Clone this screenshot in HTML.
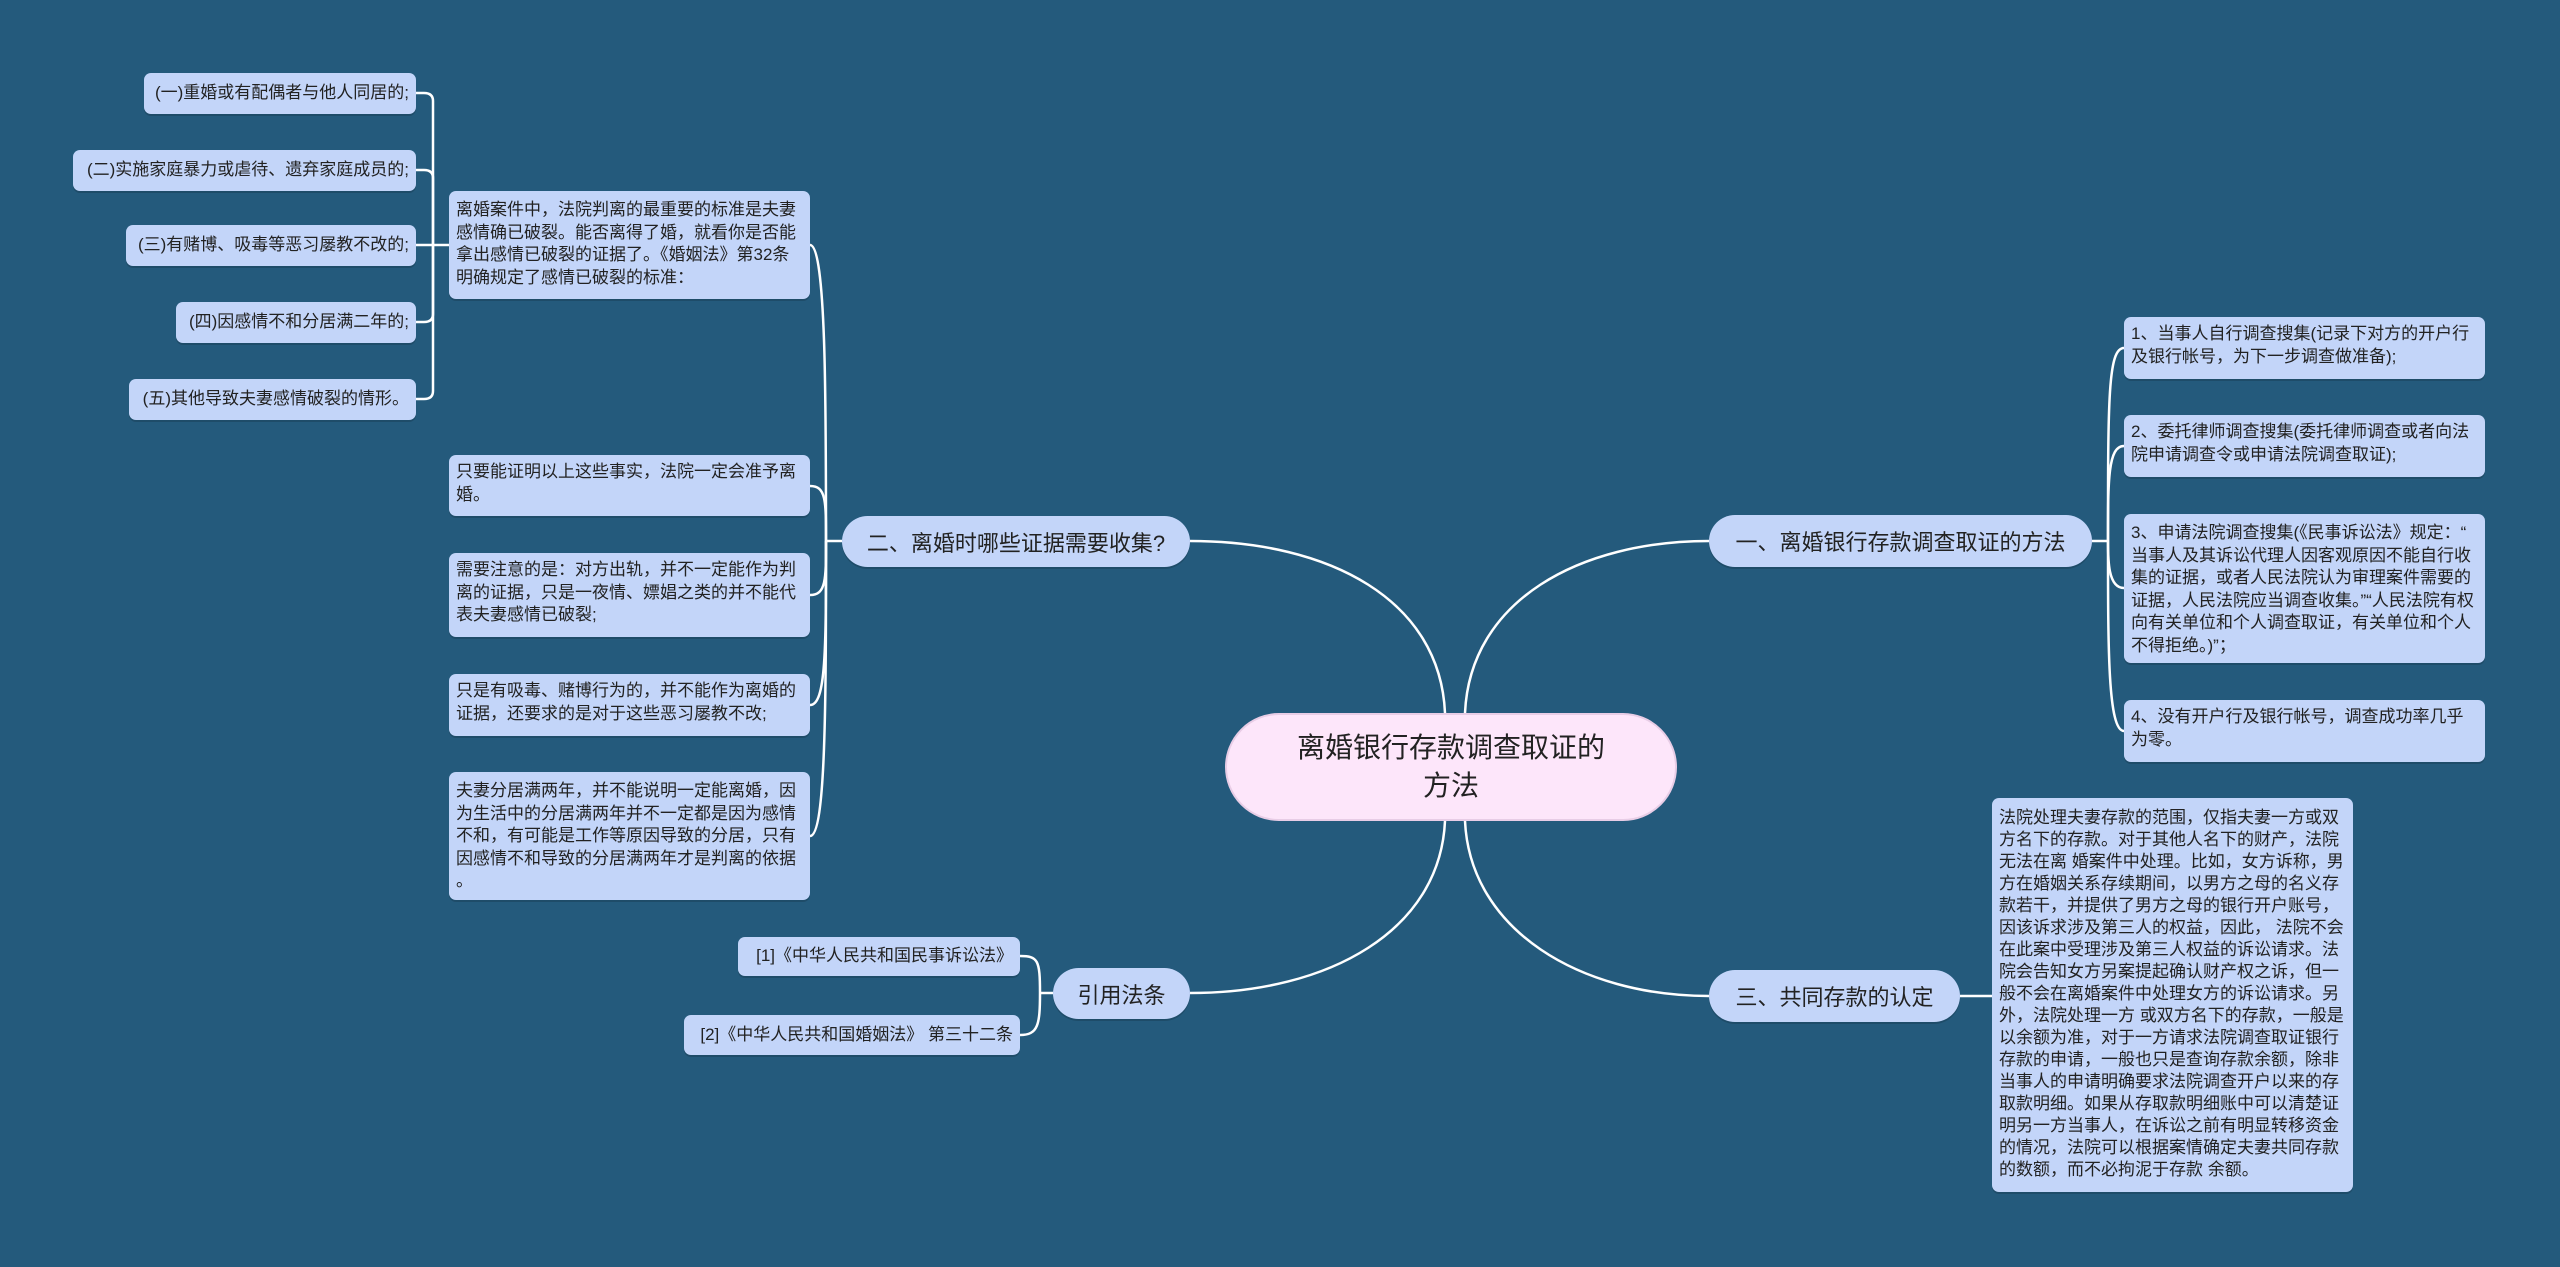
<!DOCTYPE html>
<html><head><meta charset="utf-8"><style>
html,body{margin:0;padding:0}
body{width:2560px;height:1267px;background:#245a7c;position:relative;overflow:hidden;font-family:"Liberation Sans","Noto Sans CJK SC",sans-serif;color:#222}
.n{position:absolute;background:#c3d5f9;border-radius:7px;box-sizing:border-box;font-size:17px;line-height:22.5px;padding:6px 7px;box-shadow:0 2px 0 rgba(0,0,0,0.15);line-break:anywhere}
.r{text-align:right;white-space:nowrap;display:flex;align-items:center;justify-content:flex-end}
.b{position:absolute;background:#c3d5f9;border-radius:26px;box-sizing:border-box;font-size:22px;display:flex;align-items:center;justify-content:center;white-space:nowrap;box-shadow:0 2px 0 rgba(0,0,0,0.15)}
.c{position:absolute;background:#fde6fa;border-radius:54px;box-sizing:border-box;font-size:28px;line-height:38px;display:flex;align-items:center;justify-content:center;text-align:center;border:2px solid #e8cde6}
svg{position:absolute;left:0;top:0}
</style></head><body>
<svg width="2560" height="1267" fill="none" stroke="#ffffff" stroke-width="2.5">
<path d="M1445,713 C1440,600 1330,541 1190,541"/>
<path d="M1465,713 C1470,600 1580,541 1709,541"/>
<path d="M1445,821 C1440,930 1330,993 1190,993"/>
<path d="M1465,821 C1470,930 1580,996 1709,996"/>
<path d="M842,541 H826"/>
<path d="M826,541 C826,400 826,245 810,245"/>
<path d="M826,541 C826,500 826,486 810,486"/>
<path d="M826,541 C826,580 826,595 810,595"/>
<path d="M826,541 C826,650 826,705 810,705"/>
<path d="M826,541 C826,700 826,836 810,836"/>
<path d="M449,245 H433"/>
<path d="M433,245 V101 Q433,93 424,93 H416"/>
<path d="M433,245 V178 Q433,170 424,170 H416"/>
<path d="M433,245 H416"/>
<path d="M433,245 V314 Q433,322 424,322 H416"/>
<path d="M433,245 V391 Q433,399 424,399 H416"/>
<path d="M1053,993 H1040"/>
<path d="M1040,993 C1040,960 1038,956 1020,956"/>
<path d="M1040,993 C1040,1025 1038,1035 1020,1035"/>
<path d="M2092,541 H2108"/>
<path d="M2108,541 C2108,400 2108,348 2124,348"/>
<path d="M2108,541 C2108,480 2108,446 2124,446"/>
<path d="M2108,541 C2108,560 2108,588 2124,588"/>
<path d="M2108,541 C2108,650 2108,731 2124,731"/>
<path d="M1960,996 H1992"/>
</svg>

<div class="c" style="left:1225px;top:713px;width:452px;height:108px">离婚银行存款调查取证的<br>方法</div>

<div class="b" style="left:842px;top:516px;width:348px;height:51px">二、离婚时哪些证据需要收集?</div>
<div class="b" style="left:1053px;top:968px;width:137px;height:51px">引用法条</div>
<div class="b" style="left:1709px;top:515px;width:383px;height:52px">一、离婚银行存款调查取证的方法</div>
<div class="b" style="left:1709px;top:970px;width:251px;height:52px">三、共同存款的认定</div>

<div class="n r" style="left:144px;top:73px;width:272px;height:41px">(一)重婚或有配偶者与他人同居的;</div>
<div class="n r" style="left:73px;top:150px;width:343px;height:41px">(二)实施家庭暴力或虐待、遗弃家庭成员的;</div>
<div class="n r" style="left:126px;top:225px;width:290px;height:41px">(三)有赌博、吸毒等恶习屡教不改的;</div>
<div class="n r" style="left:176px;top:302px;width:240px;height:41px">(四)因感情不和分居满二年的;</div>
<div class="n r" style="left:129px;top:379px;width:287px;height:41px">(五)其他导致夫妻感情破裂的情形。</div>

<div class="n" style="left:449px;top:191px;width:361px;height:108px;padding-top:8px">离婚案件中，法院判离的最重要的标准是夫妻感情确已破裂。能否离得了婚，就看你是否能拿出感情已破裂的证据了。《婚姻法》第32条明确规定了感情已破裂的标准：</div>
<div class="n" style="left:449px;top:455px;width:361px;height:61px">只要能证明以上这些事实，法院一定会准予离婚。</div>
<div class="n" style="left:449px;top:553px;width:361px;height:84px">需要注意的是：对方出轨，并不一定能作为判离的证据，只是一夜情、嫖娼之类的并不能代表夫妻感情已破裂;</div>
<div class="n" style="left:449px;top:674px;width:361px;height:62px">只是有吸毒、赌博行为的，并不能作为离婚的证据，还要求的是对于这些恶习屡教不改;</div>
<div class="n" style="left:449px;top:772px;width:361px;height:128px;padding-top:8px">夫妻分居满两年，并不能说明一定能离婚，因为生活中的分居满两年并不一定都是因为感情不和，有可能是工作等原因导致的分居，只有因感情不和导致的分居满两年才是判离的依据。</div>

<div class="n r" style="left:738px;top:937px;width:282px;height:39px">[1]《中华人民共和国民事诉讼法》</div>
<div class="n r" style="left:684px;top:1015px;width:336px;height:40px">[2]《中华人民共和国婚姻法》 第三十二条</div>

<div class="n" style="left:2124px;top:317px;width:361px;height:62px">1、当事人自行调查搜集(记录下对方的开户行及银行帐号，为下一步调查做准备);</div>
<div class="n" style="left:2124px;top:415px;width:361px;height:62px">2、委托律师调查搜集(委托律师调查或者向法院申请调查令或申请法院调查取证);</div>
<div class="n" style="left:2124px;top:514px;width:361px;height:149px;padding-top:8px">3、申请法院调查搜集(《民事诉讼法》规定：“当事人及其诉讼代理人因客观原因不能自行收集的证据，或者人民法院认为审理案件需要的证据，人民法院应当调查收集。”“人民法院有权向有关单位和个人调查取证，有关单位和个人不得拒绝。)”；</div>
<div class="n" style="left:2124px;top:700px;width:361px;height:62px">4、没有开户行及银行帐号，调查成功率几乎为零。</div>

<div class="n" style="left:1992px;top:798px;width:361px;height:394px;padding-top:9px;line-height:22px">法院处理夫妻存款的范围，仅指夫妻一方或双方名下的存款。对于其他人名下的财产，法院无法在离 婚案件中处理。比如，女方诉称，男方在婚姻关系存续期间，以男方之母的名义存款若干，并提供了男方之母的银行开户账号，因该诉求涉及第三人的权益，因此， 法院不会在此案中受理涉及第三人权益的诉讼请求。法院会告知女方另案提起确认财产权之诉，但一般不会在离婚案件中处理女方的诉讼请求。另外，法院处理一方 或双方名下的存款，一般是以余额为准，对于一方请求法院调查取证银行存款的申请，一般也只是查询存款余额，除非当事人的申请明确要求法院调查开户以来的存 取款明细。如果从存取款明细账中可以清楚证明另一方当事人，在诉讼之前有明显转移资金的情况，法院可以根据案情确定夫妻共同存款的数额，而不必拘泥于存款 余额。</div>
</body></html>
